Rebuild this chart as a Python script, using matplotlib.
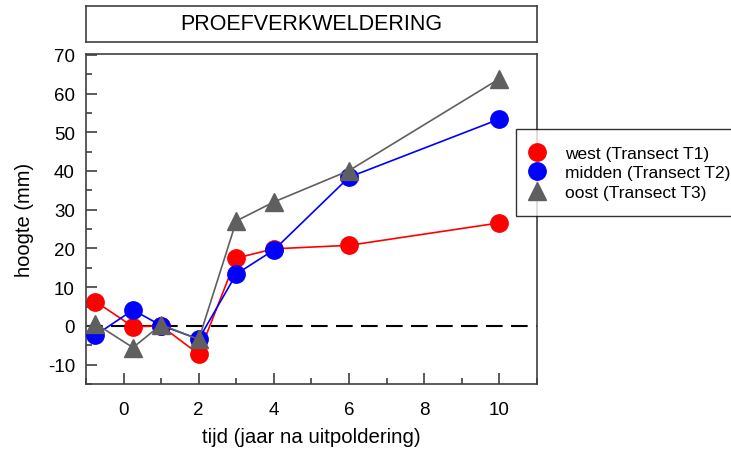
import numpy as np
import matplotlib
matplotlib.use("Agg")
import matplotlib.pyplot as plt
from matplotlib.ticker import MultipleLocator

plt.rcParams['font.family'] = ['Liberation Sans', 'DejaVu Sans']
plt.rcParams['axes.unicode_minus'] = False

# data
tijd = [-0.75, 0.25, 1, 2, 3, 4, 6, 10]
west = [6.3, -0.2, 0.0, -7.3, 17.5, 19.9, 20.8, 26.6]
midden = [-2.4, 4.1, 0.1, -3.4, 13.4, 19.6, 38.4, 53.4]
oost = [0.6, -5.6, 0.3, -3.5, 27.1, 32.0, 40.1, 63.8]

labels = ["west (Transect T1)", "midden (Transect T2)", "oost (Transect T3)"]
title = "PROEFVERKWELDERING"

spine_col = "#404040"

fig = plt.figure(figsize=(7.31, 4.52), dpi=100)
ax = fig.add_axes([86 / 731, 1 - 385 / 452, (537 - 86) / 731, (385 - 55) / 452])

ax.axhline(0, color="black", lw=1.5, ls=(0, (8, 4)), zorder=1)
ax.plot(tijd, west, color="red", lw=1.2, marker="o", ms=12.5, label=labels[0], zorder=2)
ax.plot(tijd, midden, color="blue", lw=1.2, marker="o", ms=12.5, label=labels[1], zorder=3)
ax.plot(tijd, oost, color="#5f5f5f", lw=1.2, marker="^", ms=12.5, label=labels[2], zorder=4)

ax.set_xlim(-1, 11)
ax.set_ylim(-15, 70.2)
ax.xaxis.set_major_locator(MultipleLocator(2))
ax.xaxis.set_minor_locator(MultipleLocator(1))
ax.yaxis.set_major_locator(MultipleLocator(10))
ax.yaxis.set_minor_locator(MultipleLocator(5))
ax.tick_params(which="both", direction="in", top=False, right=False,
               color=spine_col, width=1.2, labelsize=13.5)
ax.tick_params(axis="x", pad=12)
ax.tick_params(axis="y", pad=8)
ax.tick_params(which="major", length=8)
ax.tick_params(which="minor", length=4)
for s in ax.spines.values():
    s.set_color(spine_col)
    s.set_linewidth(1.2)

ax.set_xlabel("tijd (jaar na uitpoldering)", fontsize=14.7, labelpad=7)
ax.set_ylabel("hoogte (mm)", fontsize=14.5, labelpad=10)

# title box above the plot
tax = fig.add_axes([86 / 731, 1 - 43 / 452, (537 - 86) / 731, 36 / 452])
tax.set_xticks([])
tax.set_yticks([])
for s in tax.spines.values():
    s.set_color(spine_col)
    s.set_linewidth(1.2)
tax.text(0.5, 0.5, title, ha="center", va="center", fontsize=15.5, transform=tax.transAxes)

leg = fig.legend(loc="upper left", bbox_to_anchor=(516 / 731, 1 - 130 / 452),
                 borderaxespad=0, fontsize=12.5, frameon=True, fancybox=False,
                 borderpad=0.95, handletextpad=1.35, labelspacing=0.25,
                 handlelength=0.52)
leg.get_frame().set_edgecolor("black")
leg.get_frame().set_linewidth(1.0)
for h in leg.legend_handles:
    h.set_linestyle("none")

fig.savefig("out.png", dpi=100)
